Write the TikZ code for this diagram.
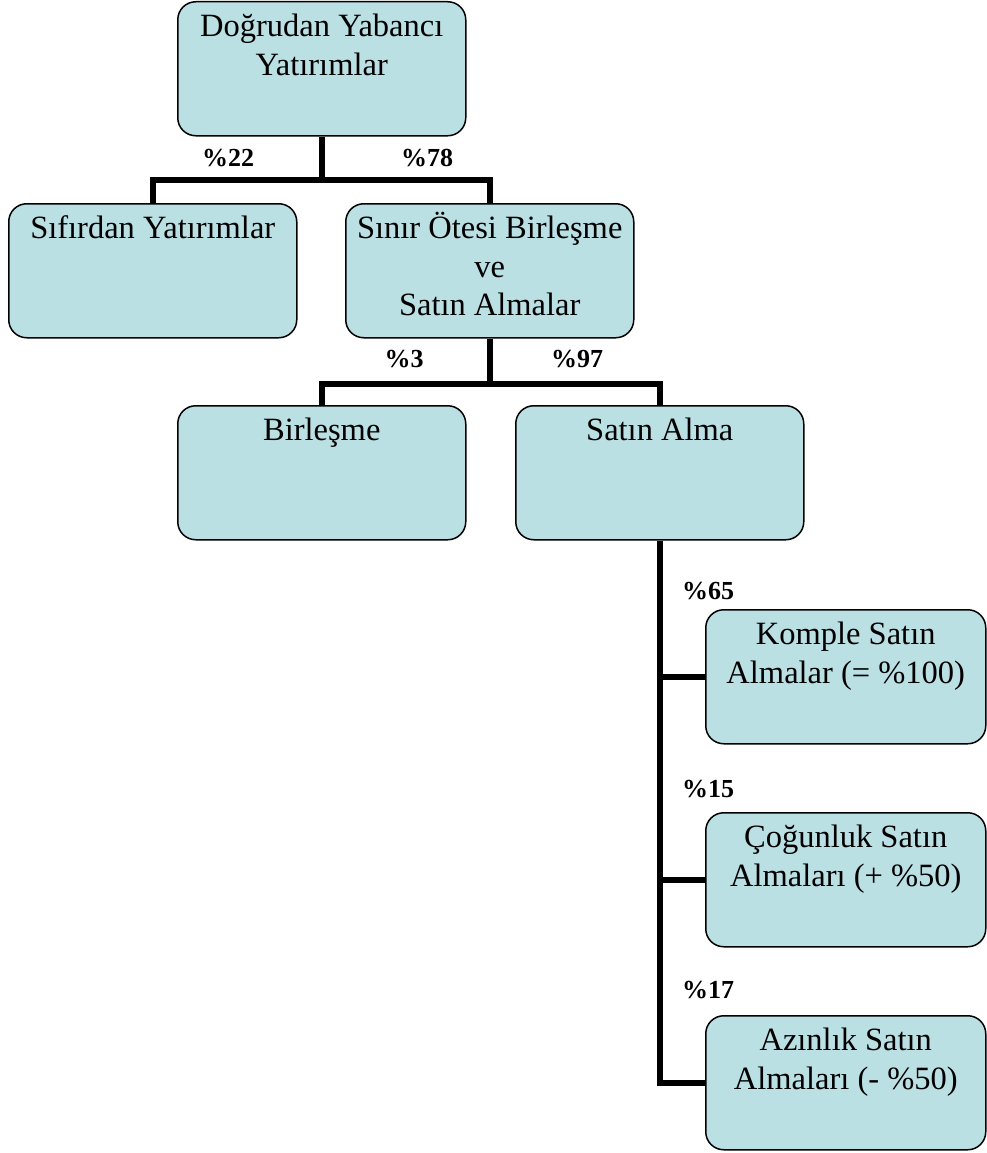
\documentclass[tikz,border=0pt]{standalone}
\usepackage{fontspec}
\setmainfont{Liberation Serif}
\usepackage{tikz}
\usetikzlibrary{positioning,calc}

\definecolor{boxfill}{RGB}{186,224,228}

\begin{document}
\begin{tikzpicture}[
    x=1pt, y=-1pt,
    box/.style={rectangle, rounded corners=18pt, draw=black, line width=1.5pt, fill=boxfill,
        inner xsep=9pt, inner ysep=0pt, anchor=north west,
        font=\fontsize{32.5}{38.5}\selectfont,
        execute at begin node={\begin{minipage}[t][134pt][t]{270pt}\centering\vspace*{8pt}\strut},
        execute at end node={\end{minipage}}},
    subbox/.style={box, inner xsep=5pt},
    conn/.style={line width=6pt, black},
    pct/.style={font=\bfseries\fontsize{26}{30}\selectfont, inner sep=0pt, anchor=base}
]
    \useasboundingbox (0,0) rectangle (986,1153);

    % boxes
    \node[box] (fdi) at (177,1) {Doğrudan Yabancı\\Yatırımlar};
    \node[box] (sif) at (8,203) {Sıfırdan Yatırımlar};
    \node[box] (sinir) at (345,203) {Sınır Ötesi Birleşme\\ve\\Satın Almalar};
    \node[box] (birl) at (177,405) {Birleşme};
    \node[box] (satin) at (515,405) {Satın Alma};
    \node[subbox] (komple) at (705,609) {Komple Satın\\Almalar (= \%100)};
    \node[subbox] (cog) at (705,812) {Çoğunluk Satın\\Almaları (+ \%50)};
    \node[subbox] (azin) at (705,1015) {Azınlık Satın\\Almaları (- \%50)};

    % connectors
    \draw[conn] (fdi.south) -- ++(0,43) coordinate (split1);
    \draw[conn] (sif.north) |- (split1) -| (sinir.north);
    \draw[conn] (sinir.south) -- ++(0,45) coordinate (split2);
    \draw[conn] (birl.north) |- (split2) -| (satin.north);
    \draw[conn] (satin.south) |- (azin.west);
    \draw[conn] (komple.west) -- (komple.west -| satin.south);
    \draw[conn] (cog.west) -- (cog.west -| satin.south);

    % shares
    \node[pct] (p22) at (228,166) {\%22};
    \node[pct] (p78) at (427,166) {\%78};
    \node[pct] (p3) at (404,367) {\%3};
    \node[pct] (p97) at (577,367) {\%97};
    \node[pct, anchor=base west] (p65) at (682,599) {\%65};
    \node[pct, anchor=base west] (p15) at (682,797) {\%15};
    \node[pct, anchor=base west] (p17) at (682,998) {\%17};
\end{tikzpicture}
\end{document}
